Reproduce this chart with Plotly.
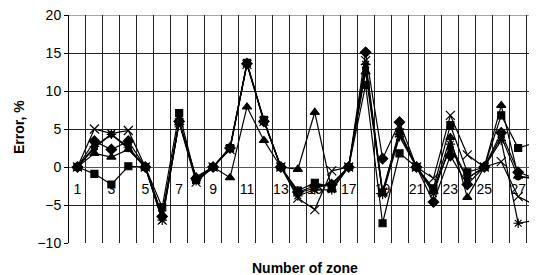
import plotly.graph_objects as go

zones = list(range(1, 29))
tick_vals = list(range(1, 28, 2))
tick_text = [str(v) for v in tick_vals]
y_ticks = [-10, -5, 0, 5, 10, 15, 20]
zone_bounds = [z + 0.5 for z in range(0, 30)]

s_diamond = [0, 3.4, 2.3, 3.4, 0, -6.5, 6.0, -1.5, 0, 2.5, 13.6, 6.0, 0, -3.3, -2.5, -2.3, 0, 15.1, 1.1, 5.9, 0, -4.6, 1.5, -2.3, 0, 4.5, -0.7, -1.5]
s_square = [0, -0.9, -2.3, 0.1, 0, -5.3, 7.1, -1.7, 0, 2.5, 13.7, 6.2, 0, -3.1, -2.1, -2.6, 0, 10.8, -7.4, 1.8, 0, -2.8, 5.5, -0.7, 0, 6.8, 2.5, 3.2]
s_triangle = [0, 1.8, 1.3, 2.3, 0, -6.3, 5.8, -1.3, 0, -1.4, 7.9, 3.5, 0, -0.3, 7.2, -3.0, 0, 12.5, -3.5, 4.5, 0, -3.2, 3.9, -4.0, 0, 8.1, -1.2, -1.5]
s_x = [0, 5.0, 4.4, 4.8, 0, -7.0, 5.8, -2.0, 0, 2.3, 13.5, 6.0, 0, -4.1, -5.6, -0.5, 0, 14.0, -3.3, 4.5, 0, -1.5, 6.8, 1.6, 0, 0.7, -3.9, -5.0]
s_star = [0, 2.7, 4.3, 2.6, 0, -7.0, 6.0, -1.8, 0, 2.5, 13.6, 6.0, 0, -3.8, -3.0, -3.0, 0, 13.5, -3.6, 4.0, 0, -3.5, 3.0, -1.5, 0, 3.5, -7.4, -7.0]
s_circle = [0, 2.5, 4.3, 2.4, 0, -6.7, 6.2, -1.6, 0, 2.6, 13.6, 6.1, 0, -3.4, -2.8, -2.2, 0, 13.0, -3.2, 4.8, 0, -3.0, 2.5, -1.5, 0, 4.0, -1.3, -1.5]

series = [
    (s_diamond, "diamond", 8),
    (s_square, "square", 7),
    (s_triangle, "triangle-up", 8),
    (s_x, "x-thin", 9),
    (s_star, "asterisk", 8),
    (s_circle, "circle", 6),
]

# page body has an 8px margin; compensate so the plot lands where the reference has it
W, H = 529, 267
L, T = 61, 7
PW, PH = 468, 228
xr = [0.5, 0.5 + PW / 16.95]

fig = go.Figure()
# invisible helper trace on the gridline axis
fig.add_trace(go.Scatter(x=[xr[0], xr[1]], y=[0, 0], xaxis="x2", mode="lines",
                         line=dict(width=0), hoverinfo="skip", showlegend=False))
for vals, sym, size in series:
    fig.add_trace(go.Scatter(
        x=zones, y=vals, mode="lines+markers",
        line=dict(color="black", width=1.2),
        marker=dict(symbol=sym, size=size, color="black",
                    line=dict(color="black", width=1.2)),
        showlegend=False,
    ))

font = dict(family="Liberation Sans, Arial, sans-serif", size=14, color="black")
fig.update_layout(
    width=W, height=H,
    margin=dict(l=L, r=W - L - PW, t=T, b=H - T - PH, autoexpand=False),
    paper_bgcolor="white", plot_bgcolor="white",
    font=font,
    xaxis=dict(
        range=xr,
        tickmode="array", tickvals=tick_vals, ticktext=tick_text,
        showgrid=False, zeroline=False, showline=False,
        ticks="", anchor="free", position=(10 / 30),
        ticklabelstandoff=12,
    ),
    xaxis2=dict(
        range=xr, overlaying="x", anchor="y",
        tickmode="array", tickvals=zone_bounds,
        showticklabels=False, ticks="",
        showgrid=True, gridcolor="#222", gridwidth=1,
        zeroline=False, showline=False,
    ),
    yaxis=dict(
        range=[-10, 20], tickvals=y_ticks,
        showgrid=True, gridcolor="#222", gridwidth=1,
        zeroline=True, zerolinecolor="#555", zerolinewidth=1,
        showline=True, linecolor="black", linewidth=1,
        ticks="outside", ticklen=4, tickcolor="black",
        ticklabeloverflow="allow",
    ),
    shapes=[
        dict(type="line", xref="paper", yref="y", x0=0, x1=1, y0=20, y1=20,
             line=dict(color="#888", width=1.5), layer="below"),
    ],
    annotations=[
        dict(text="<b>Error, %</b>", xref="paper", yref="paper",
             x=(19 - 69) / PW, y=(243 - 127) / PH, textangle=-90,
             showarrow=False, font=dict(size=14), xanchor="center", yanchor="middle"),
        dict(text="<b>Number of zone</b>", xref="paper", yref="paper",
             x=(305 - 69) / PW, y=(243 - 268) / PH,
             showarrow=False, font=dict(size=14), xanchor="center", yanchor="middle"),
    ],
)
fig.write_html("out.html")
